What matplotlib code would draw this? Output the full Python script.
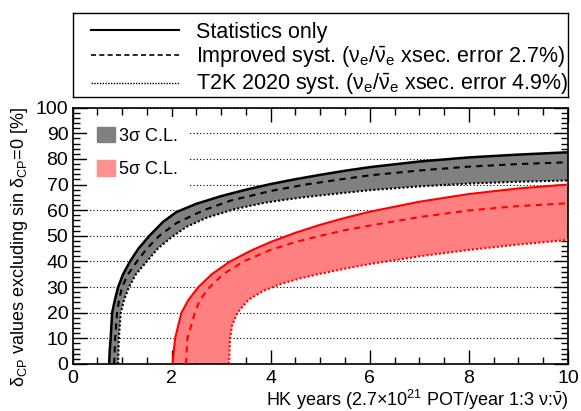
import numpy as np
import matplotlib.pyplot as plt
from matplotlib.lines import Line2D
from matplotlib.patches import Patch
from matplotlib.ticker import MultipleLocator

plt.rcParams['font.family'] = ['Liberation Sans', 'DejaVu Sans']
plt.rcParams['mathtext.fontset'] = 'custom'
plt.rcParams['mathtext.rm'] = 'Liberation Sans'
plt.rcParams['mathtext.it'] = 'Liberation Sans:italic'

# 3 sigma curves (x = HK years, y = % of delta_CP values)
x3_stat = [0.74, 0.75, 0.77, 0.80, 0.855, 0.92, 1.02, 1.16, 1.33, 1.55, 1.83, 2.1, 2.5, 3.0,
           3.5, 4.0, 4.5, 5.0, 5.5, 6.0, 7.0, 8.0, 9.0, 10.0]
y3_stat = [0, 5, 10, 20, 25, 30, 35, 40, 45, 50, 55.5, 59.3, 62.5, 65.5,
           68.0, 70.2, 72.1, 73.8, 75.4, 76.8, 79.0, 80.6, 81.7, 82.6]
x3_impr = [0.84, 0.86, 0.90, 0.94, 1.0, 1.12, 1.30, 1.50, 1.75, 2.1, 2.65, 3.2, 4.0, 4.7,
           5.4, 6.0, 7.0, 8.0, 9.0, 10.0]
y3_impr = [0, 10, 20, 25, 30, 35, 40, 45, 50, 55, 60, 63.8, 67.5, 70.0,
           72.0, 73.6, 75.5, 77.0, 78.0, 78.7]
x3_t2k = [0.92, 0.935, 0.975, 1.04, 1.14, 1.28, 1.50, 1.72, 2.0, 2.3, 2.7, 3.25, 3.9, 4.6,
          5.4, 6.0, 7.0, 8.0, 9.0, 10.0]
y3_t2k = [0, 10, 20, 25, 30, 35, 40, 45, 49.5, 53.5, 57.0, 60.3, 63.0, 64.9,
          66.6, 67.8, 69.3, 70.4, 71.1, 71.6]

# 5 sigma curves
x5_stat = [2.02, 2.07, 2.20, 2.34, 2.54, 2.81, 3.18, 3.6, 4.0, 4.5, 5.0, 5.5, 6.0,
           7.0, 8.0, 9.0, 10.0]
y5_stat = [0, 10, 20, 25, 30, 35, 40, 44.2, 47.6, 51.2, 54.3, 57.0, 59.4,
           63.3, 66.3, 68.5, 70.0]
x5_impr = [2.29, 2.32, 2.47, 2.57, 2.77, 3.04, 3.45, 4.0, 4.5, 5.0, 5.5, 6.0,
           7.0, 8.0, 9.0, 10.0]
y5_impr = [0, 10, 20, 25, 30, 35, 40, 44.5, 47.6, 50.0, 52.2, 54.0,
           57.3, 59.9, 61.6, 62.7]
x5_t2k = [3.16, 3.18, 3.22, 3.33, 3.55, 3.85, 4.2, 4.6, 5.0, 5.5, 6.0, 7.0, 8.0, 9.0, 10.0]
y5_t2k = [0, 10, 15, 20, 25, 28.5, 31.2, 33.4, 35.2, 37.2, 39.0, 42.0, 44.5, 46.6, 48.4]

fig = plt.figure(figsize=(5.81, 4.11), dpi=100)
ax = fig.add_axes([0.1248, 0.1144, 0.8528, 0.6236])

gray = '#808080'
pink = '#ff8080'

ax.fill(np.concatenate([x3_stat, x3_t2k[::-1]]), np.concatenate([y3_stat, y3_t2k[::-1]]),
        color=gray, lw=0, zorder=2)
ax.fill(np.concatenate([x5_stat, x5_t2k[::-1]]), np.concatenate([y5_stat, y5_t2k[::-1]]),
        color=pink, lw=0, zorder=2)

ax.plot(x3_stat, y3_stat, color='black', lw=1.8, ls='-', zorder=3)
ax.plot(x3_impr, y3_impr, color='black', lw=1.5, ls=(0, (3, 2.5)), zorder=3)
ax.plot(x3_t2k, y3_t2k, color='black', lw=1.5, ls=(0, (1, 1)), zorder=3)
ax.plot(x5_stat, y5_stat, color='red', lw=1.5, ls='-', zorder=3)
ax.plot(x5_impr, y5_impr, color='red', lw=1.5, ls=(0, (3, 2.5)), zorder=3)
ax.plot(x5_t2k, y5_t2k, color='red', lw=1.5, ls=(0, (1, 1)), zorder=3)

ax.set_xlim(0, 10)
ax.set_ylim(0, 100)
ax.xaxis.set_major_locator(MultipleLocator(2))
ax.xaxis.set_minor_locator(MultipleLocator(0.5))
ax.yaxis.set_major_locator(MultipleLocator(10))
ax.yaxis.set_minor_locator(MultipleLocator(2))
ax.tick_params(which='both', direction='in', top=True, right=True, labelsize=14, width=1)
ax.tick_params(which='major', length=10)
ax.tick_params(axis='x', which='major', pad=4)
ax.tick_params(axis='y', which='major', pad=3)
ax.tick_params(which='minor', length=5)
ax.yaxis.grid(True, which='major', color='black', ls=(0, (1, 2)), lw=0.8)
for s in ax.spines.values():
    s.set_linewidth(1.2)

ax.set_xlabel(r'HK years (2.7$\times$10$^{21}$ POT/year 1:3 $\mathrm{\nu}$:$\bar{\mathrm{\nu}}$)',
              fontsize=13, loc='right', labelpad=1)
ax.set_ylabel(r'$\mathrm{\delta}_{\mathrm{CP}}$ values excluding sin $\mathrm{\delta}_{\mathrm{CP}}$=0 [%]',
              fontsize=13, loc='top', labelpad=4)

leg_in = ax.legend(handles=[Patch(color=gray, label=r'3$\mathrm{\sigma}$ C.L.'),
                            Patch(color='#ff9090', label=r'5$\mathrm{\sigma}$ C.L.')],
                   loc='upper left', bbox_to_anchor=(0.012, 1.0), frameon=True, fancybox=False,
                   edgecolor='none', framealpha=1, fontsize=13, handlelength=0.95,
                   handleheight=0.95, handletextpad=0.2, labelspacing=0.85, borderpad=0.55)
leg_in.set_zorder(5)

# legend box above the plot
lax = fig.add_axes([0.1248, 0.764, 0.8528, 0.2036])
lax.set_xticks([])
lax.set_yticks([])
for s in lax.spines.values():
    s.set_linewidth(1.0)

e_ratio = r'$\mathrm{\nu}_{\mathrm{e}}$/$\bar{\mathrm{\nu}}_{\mathrm{e}}$'
handles = [Line2D([], [], color='black', lw=1.5, ls='-', label='Statistics only'),
           Line2D([], [], color='black', lw=1.2, ls=(0, (3, 2)),
                  label='Improved syst. (' + e_ratio + ' xsec. error 2.7%)'),
           Line2D([], [], color='black', lw=1.0, ls=(0, (1, 1)),
                  label='T2K 2020 syst. (' + e_ratio + ' xsec. error 4.9%)')]
lax.legend(handles=handles, loc='center left', bbox_to_anchor=(0.037, 0.45),
           frameon=False, fontsize=15.5, handlelength=4.1, handletextpad=0.8,
           labelspacing=0.1, borderpad=0, borderaxespad=0)

plt.savefig('out.png', dpi=100)
